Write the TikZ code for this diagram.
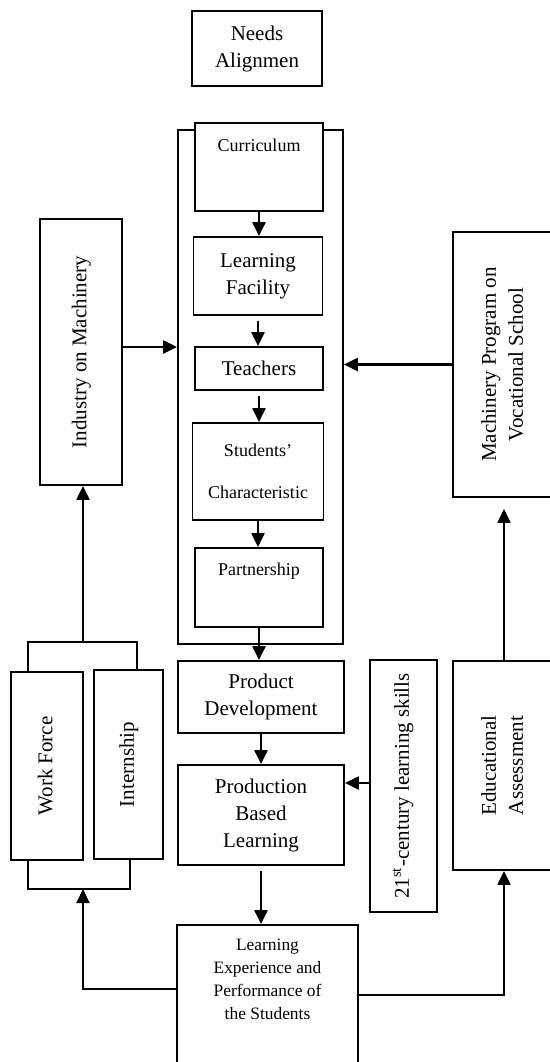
\documentclass[tikz,border=0pt]{standalone}
\usepackage{fontspec}
\setmainfont{Liberation Serif}
\usepackage{graphicx}
\usetikzlibrary{positioning,arrows.meta}

\newcommand{\vtext}[1]{\rotatebox{90}{\begin{tabular}{@{}c@{}}#1\end{tabular}}}

\begin{document}
\begin{tikzpicture}[x=0.5pt,y=-0.5pt,
  box/.style={draw,line width=0.9pt,inner sep=2pt,align=center,fill=white,
    font=\fontsize{10.5}{13.5}\selectfont},
  small/.style={font=\fontsize{9}{11}\selectfont},
  arr/.style={-{Triangle[length=7pt,width=6.5pt]},line width=1.1pt},
  link/.style={line width=0.9pt}]

  \useasboundingbox (0,0) rectangle (550,1062);
  \clip (0,0) rectangle (550,1062);

  % --- top ---
  \node[box,minimum width=65pt,minimum height=37.5pt] (needs) at (257,48.5) {Needs\\Alignmen};

  % --- central frame and its parts ---
  \node[draw,line width=0.9pt,minimum width=82.5pt,minimum height=257pt] (frame) at (260.5,387) {};
  \node[box,minimum width=64pt,minimum height=44pt,
    label={[small,anchor=north,yshift=-5pt]north:Curriculum}] (curr) at (259,167) {};
  \node[box,minimum width=64.5pt,minimum height=39pt] (lf) at (258,276) {Learning\\Facility};
  \node[box,minimum width=64pt,minimum height=21.5pt] (teach) at (259,368.5) {Teachers};
  \node[box,small,minimum width=65.5pt,minimum height=48.5pt] (stud) at (258,471.5) {Students’\\[10pt]Characteristic};
  \node[box,minimum width=64pt,minimum height=39.5pt,
    label={[small,anchor=north,yshift=-4.5pt]north:Partnership}] (part) at (259,587.5) {};

  % --- lower column ---
  \node[box,minimum width=83pt,minimum height=36pt] (pd) at (261,697) {Product\\Development};
  \node[box,minimum width=83pt,minimum height=50pt] (pbl) at (261,815) {Production\\Based\\Learning};
  \node[box,minimum width=90.5pt,minimum height=70pt,
    label={[anchor=north,align=center,yshift=-4pt,font=\fontsize{8.7}{11.5}\selectfont]north:Learning\\Experience and\\Performance of\\the Students}] (lep) at (267.5,995) {};

  % --- side boxes ---
  \node[box,minimum width=41pt,minimum height=133pt] (ind) at (81,352) {\vtext{Industry on Machinery}};
  \node[box,minimum width=51pt,minimum height=132.5pt] (mach) at (504,364.5) {\vtext{Machinery Program on\\Vocational School}};
  \node[box,minimum width=33.5pt,minimum height=126pt] (skills) at (403.5,786) {\vtext{21\textsuperscript{st}-century learning skills}};
  \node[box,minimum width=51pt,minimum height=104.5pt] (ea) at (504,765.5) {\vtext{Educational\\Assessment}};
  \node[box,minimum width=36pt,minimum height=94pt] (wf) at (47,766) {\vtext{Work Force}};
  \node[box,minimum width=34.5pt,minimum height=94.5pt] (intern) at (128.5,764.5) {\vtext{Internship}};

  % --- brackets round work force / internship ---
  \coordinate (tl) at (28,642);  \coordinate (tr) at (137,642);  \coordinate (tm) at (83,642);
  \coordinate (bl) at (28,889);  \coordinate (br) at (130,889);  \coordinate (bm) at (83,889);
  \draw[link] (wf.north -| tl) |- (tr) -- (tr |- intern.north);
  \draw[link] (wf.south -| bl) |- (br) -- (br |- intern.south);

  % --- flow down the middle ---
  \draw[arr] (curr.south) -- (curr.south |- lf.north);
  \draw[arr,shorten <=2.5pt] (lf.south) -- (lf.south |- teach.north);
  \draw[arr,shorten <=2.5pt] (teach.south) -- (teach.south |- stud.north);
  \draw[arr] (stud.south) -- (stud.south |- part.north);
  \draw[arr] (part.south) -- (part.south |- pd.north);
  \draw[arr] (pd.south) -- (pd.south |- pbl.north);
  \draw[arr,shorten <=2.5pt] (pbl.south) -- (pbl.south |- lep.north);

  % --- side links ---
  \draw[arr] ([yshift=2.5pt]ind.east) -- ([yshift=2.5pt]ind.east -| frame.west);
  \draw[arr] (mach.west) -- (mach.west -| frame.east);
  \draw[arr] ([yshift=1.5pt]skills.west) -- ([yshift=1.5pt]skills.west -| pbl.east);
  \draw[arr] (lep.east) -| (ea.south);
  \draw[arr,shorten >=5.5pt] (ea.north) -- (mach.south);
  \draw[arr] ([yshift=3pt]lep.west) -| (bm);
  \draw[arr] (tm) -- (tm |- ind.south);
\end{tikzpicture}
\end{document}
